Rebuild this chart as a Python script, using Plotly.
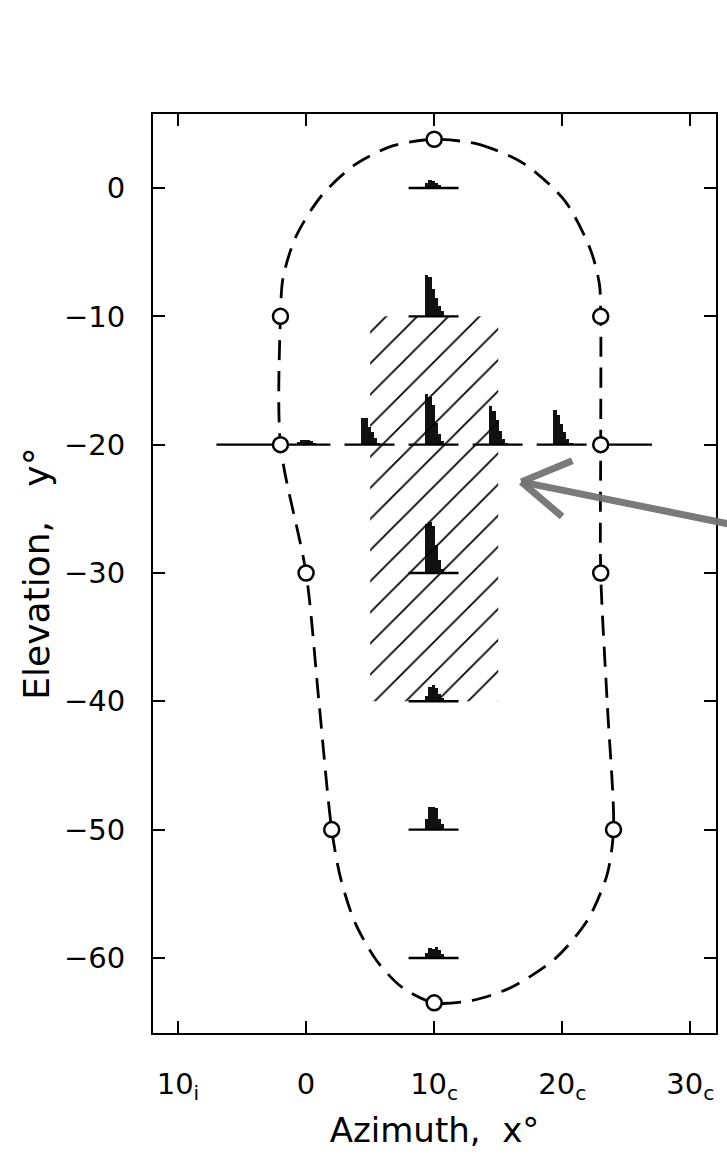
import plotly.graph_objects as go

# ---------------- data ----------------
# measured field-boundary points (open circles)
circle_x = [10, 23, 23, 23, 24, 10, 2, 0, -2, -2]
circle_y = [3.8, -10, -20, -30, -50, -63.5, -50, -30, -20, -10]

# dashed boundary path (closed, clockwise from top)
path_x = [10, 13.5, 17.0, 20.2, 22.2, 22.9, 23, 23, 23, 23.5, 24, 23.5, 22.0, 19.5,
          16.0, 13.0, 10, 7.5, 5.5, 3.8, 2.7, 2, 1.0, 0, -2, -2,
          -1.8, -0.8, 1.2, 3.8, 6.8]
path_y = [3.8, 3.4, 1.9, -1.0, -4.8, -7.5, -10, -20, -30, -40, -50, -53.5, -57.0, -60.0,
          -62.3, -63.3, -63.5, -62.3, -60.2, -57.2, -53.8, -50, -40, -30, -20, -10,
          -7.0, -3.8, -0.6, 1.8, 3.3]

# histogram locations (azimuth, elevation)
hist_x = [10, 10, 0, 5, 10, 15, 20, 10, 10, 10, 10]
hist_y = [0, -10, -20, -20, -20, -20, -20, -30, -40, -50, -60]
# bin heights for each histogram (elevation units)
hist_heights = [
    [0.40, 0.60, 0.55, 0.40, 0.25, 0.10],
    [3.25, 3.10, 2.10, 1.40, 0.80, 0.40],
    [0.20, 0.35, 0.40, 0.35, 0.25, 0.10],
    [2.10, 2.10, 1.40, 0.95, 0.50, 0.15],
    [3.95, 3.70, 3.10, 1.70, 0.80, 0.30],
    [3.00, 2.65, 1.95, 1.10, 0.45, 0.15],
    [2.70, 2.30, 1.60, 0.95, 0.45, 0.15],
    [3.80, 3.95, 3.65, 2.15, 1.00, 0.30],
    [0.45, 1.10, 1.25, 1.00, 0.60, 0.25],
    [0.80, 1.80, 1.80, 1.70, 0.80, 0.40],
    [0.40, 0.75, 0.70, 0.85, 0.60, 0.30],
]

# horizontal arms at the -20 elevation line
arm_x = [[-7, -2], [23, 27]]
arm_y = -20

# hatched region
hatch_x = [5, 15]
hatch_y = [-40, -10]

# arrow (tip, barb ends, tail)
arrow_tip = (16.8, -22.9)
arrow_barbs = [(20.9, -21.2), (20.1, -25.7)]
arrow_tail = (33.6, -26.3)

x_tickvals = [-10, 0, 10, 20, 30]
x_ticktext = ["10<sub>i</sub>", "0", "10<sub>c</sub>", "20<sub>c</sub>", "30<sub>c</sub>"]
y_tickvals = [0, -10, -20, -30, -40, -50, -60]
y_ticktext = ["0", "\u221210", "\u221220", "\u221230", "\u221240", "\u221250", "\u221260"]

# ---------------- build ----------------
BIN_W = 0.25
BIN_START = -0.575
BASE_LEFT, BASE_RIGHT = -2.0, 1.9

fig = go.Figure()

# hatched rectangle
fig.add_trace(go.Scatter(
    x=[hatch_x[0], hatch_x[1], hatch_x[1], hatch_x[0], hatch_x[0]],
    y=[hatch_y[0], hatch_y[0], hatch_y[1], hatch_y[1], hatch_y[0]],
    mode="lines", line=dict(width=0, color="rgba(0,0,0,0)"),
    fill="toself", fillcolor="rgba(0,0,0,0)",
    fillpattern=dict(shape="/", size=22, solidity=0.08,
                     fgcolor="black", bgcolor="rgba(0,0,0,0)", fillmode="replace"),
    hoverinfo="skip", showlegend=False,
))

# baselines and arms
bx, by = [], []
for cx, cy in zip(hist_x, hist_y):
    bx += [cx + BASE_LEFT, cx + BASE_RIGHT, None]
    by += [cy, cy, None]
for seg in arm_x:
    bx += [seg[0], seg[1], None]
    by += [arm_y, arm_y, None]
fig.add_trace(go.Scatter(x=bx, y=by, mode="lines",
                         line=dict(color="black", width=2.4),
                         hoverinfo="skip", showlegend=False))

# histogram bars
bars_x, bars_h, bars_base = [], [], []
for cx, cy, hs in zip(hist_x, hist_y, hist_heights):
    for i, h in enumerate(hs):
        bars_x.append(cx + BIN_START + i * BIN_W)
        bars_h.append(h)
        bars_base.append(cy)
fig.add_trace(go.Bar(x=bars_x, y=bars_h, base=bars_base, width=BIN_W,
                     marker=dict(color="#111111", line=dict(width=0)),
                     showlegend=False, hoverinfo="skip"))

# dashed boundary (closed smooth curve: first point repeated)
fig.add_trace(go.Scatter(
    x=path_x + path_x[:1], y=path_y + path_y[:1], mode="lines",
    line=dict(shape="spline", smoothing=0.8, color="black", width=2.8,
              dash="20px,11px"),
    hoverinfo="skip", showlegend=False,
))
fig.add_trace(go.Scatter(
    x=circle_x, y=circle_y, mode="markers",
    marker=dict(symbol="circle", size=15, color="white",
                line=dict(color="black", width=2.5)),
    hoverinfo="skip", showlegend=False, cliponaxis=False,
))

# grey arrow
arrow_style = dict(showarrow=True, text="", arrowhead=0, arrowwidth=7,
                   arrowcolor="rgba(115,115,115,0.95)", xref="x", yref="y",
                   axref="x", ayref="y", standoff=0, startstandoff=0)
fig.add_annotation(x=arrow_tip[0], y=arrow_tip[1], ax=arrow_tail[0], ay=arrow_tail[1], **arrow_style)
for bxx, byy in arrow_barbs:
    fig.add_annotation(x=arrow_tip[0], y=arrow_tip[1], ax=bxx, ay=byy, **arrow_style)

FONT = "DejaVu Sans"
axis_common = dict(showgrid=False, zeroline=False, showline=True, linecolor="black",
                   linewidth=2, mirror="ticks", ticks="inside", ticklen=12,
                   tickwidth=2, tickcolor="black",
                   tickfont=dict(family=FONT, size=29, color="black"))

fig.update_layout(
    width=727, height=1174,
    margin=dict(l=153, r=9, t=114, b=141),
    paper_bgcolor="white", plot_bgcolor="white",
    barmode="overlay", bargap=0,
    showlegend=False,
    xaxis=dict(range=[-11.95, 32.0], tickvals=x_tickvals, ticktext=x_ticktext,
               ticklabelstandoff=24,
               title=dict(text="Azimuth,\u00a0 x\u00b0", font=dict(family=FONT, size=34, color="black"),
                          standoff=14),
               **axis_common),
    yaxis=dict(range=[-65.85, 5.77], tickvals=y_tickvals, ticktext=y_ticktext,
               ticklabelstandoff=20,
               title=dict(text="Elevation,\u00a0\u00a0 y\u00b0", font=dict(family=FONT, size=36, color="black"),
                          standoff=3),
               **axis_common),
)

fig.write_html("out.html")
